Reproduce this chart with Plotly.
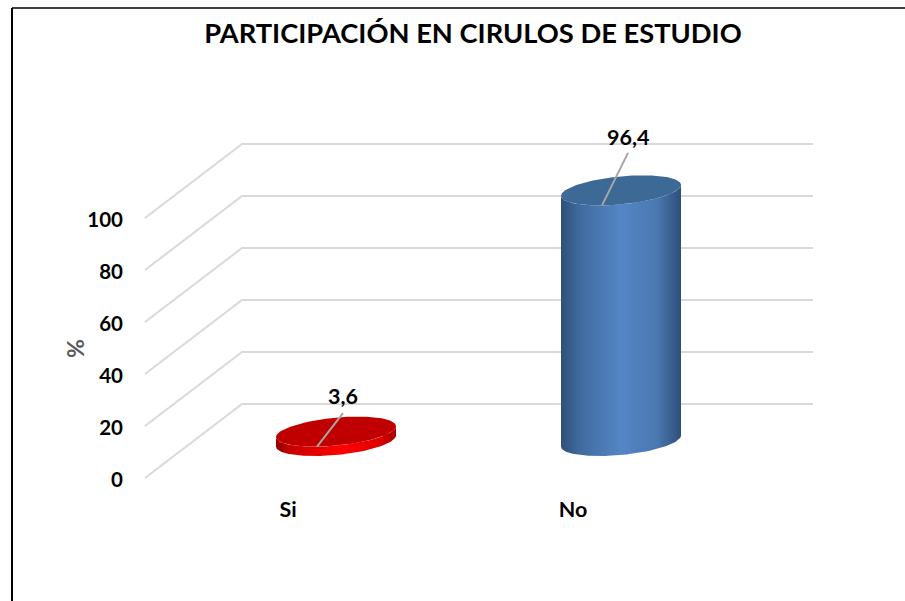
import numpy as np
import plotly.graph_objects as go

categories = ["Si", "No"]
values = [3.6, 96.4]
value_labels = ["3,6", "96,4"]
y_ticks = [0, 20, 40, 60, 80, 100]

title = "PARTICIPACIÓN EN CIRULOS DE ESTUDIO"
font = "Lato, Carlito, Calibri, sans-serif"

# page is 905x601, the fake 3D depth is worked out in pixels then scaled to axis units
W, H = 905, 601
PX_PER_UNIT = 2.6
PX_PER_CAT = 285
X0_PX = 336       # pixel of the first cylinder centre
Y0_PX = 480       # pixel of value 0 on the axis
PLOT_BOTTOM = 494


def dx(px):
    return px / PX_PER_CAT


def dv(px):
    return px / PX_PER_UNIT


def xcat(px):
    return (px - X0_PX) / PX_PER_CAT


# gridlines: front corner -> back wall -> right end
FRONT_X, BACK_X, RIGHT_X = xcat(145), xcat(242), xcat(813)
FRONT_V, BACK_V = dv(2), dv(76)
BASE_V = dv(39)   # floor level under the cylinders

HALF_W, ELL_B, ELL_K = dx(60), dv(14), dv(5.5)

styles = [
    dict(top="#C00000",
         body=[[0, "#8E0000"], [0.12, "#C80000"], [0.55, "#FF0000"], [0.85, "#E00000"], [1, "#A80000"]]),
    dict(top="#3D6996",
         body=[[0, "#2F4F78"], [0.15, "#3F6A9E"], [0.5, "#5486C6"], [0.8, "#4A78B0"], [1, "#2F4F78"]]),
]
leader_rise = [18.5, 37.5]
label_rise = [35.5, 53]

fig = go.Figure()

# walls / gridlines
gx, gy = [], []
for tick in y_ticks:
    gx += [FRONT_X, BACK_X, RIGHT_X, None]
    gy += [tick + FRONT_V, tick + BACK_V, tick + BACK_V, None]
fig.add_trace(go.Scatter(x=gx, y=gy, mode="lines", line=dict(color="#D9D9D9", width=2),
                         hoverinfo="skip", showlegend=False))

for i, (cat, val) in enumerate(zip(categories, values)):
    top_v = BASE_V + val

    # body: lower arc of the floor ellipse, back along the lower arc of the top ellipse
    t = np.linspace(np.pi, 2 * np.pi, 80)
    ex = i + HALF_W * np.cos(t)
    ev = ELL_K * np.cos(t) + ELL_B * np.sin(t)
    body_x = np.concatenate([ex, ex[::-1]])
    body_y = np.concatenate([BASE_V + ev, (top_v + ev)[::-1]])
    fig.add_trace(go.Scatter(
        x=body_x, y=body_y, mode="lines", line=dict(width=0), fill="toself",
        fillgradient=dict(type="horizontal", colorscale=styles[i]["body"]),
        hoverinfo="skip", showlegend=False,
    ))

    # top face
    t = np.linspace(0, 2 * np.pi, 160)
    fig.add_trace(go.Scatter(
        x=i + HALF_W * np.cos(t),
        y=top_v + ELL_K * np.cos(t) + ELL_B * np.sin(t),
        mode="lines", line=dict(width=0), fill="toself", fillcolor=styles[i]["top"],
        hoverinfo="skip", showlegend=False,
    ))

    # leader line and data label
    fig.add_trace(go.Scatter(
        x=[i - dx(19), i + dx(7)],
        y=[top_v - dv(15), top_v + dv(leader_rise[i])],
        mode="lines", line=dict(color="#A6A6A6", width=2),
        hoverinfo="skip", showlegend=False,
    ))
    fig.add_annotation(x=i + dx(7), y=top_v + dv(label_rise[i]), text=f"<b>{value_labels[i]}</b>",
                       showarrow=False, font=dict(family=font, size=21.5, color="#000000"))

# % axis title
fig.add_annotation(xref="paper", yref="paper", x=75 / W, y=1 - 349 / H, text="<b>%</b>",
                   textangle=-90, showarrow=False, xanchor="center", yanchor="middle",
                   font=dict(family=font, size=23, color="#595959"))

fig.update_layout(
    width=W,
    height=H,
    margin=dict(l=0, r=0, t=0, b=0),
    paper_bgcolor="white",
    plot_bgcolor="white",
    showlegend=False,
    title=dict(text=f"<b>{title}</b>", x=473 / W, xanchor="center", y=1 - 33 / H, yanchor="middle",
               font=dict(family=font, size=27.3, color="#000000")),
    xaxis=dict(
        range=[xcat(0), xcat(W)],
        tickmode="array",
        tickvals=[i + dx(-48) for i in range(len(categories))],
        ticktext=[f"<b>{c}</b>" for c in categories],
        tickfont=dict(family=font, size=21.5, color="#000000"),
        showgrid=False,
        zeroline=False,
        showline=False,
        ticks="",
    ),
    yaxis=dict(
        domain=[(H - PLOT_BOTTOM) / H, 1],
        range=[(Y0_PX - PLOT_BOTTOM) / PX_PER_UNIT, Y0_PX / PX_PER_UNIT],
        anchor="free",
        position=123 / W,
        tickmode="array",
        tickvals=y_ticks,
        ticktext=[f"<b>{v}</b>" for v in y_ticks],
        tickfont=dict(family=font, size=20.5, color="#000000"),
        showgrid=False,
        zeroline=False,
        showline=False,
        ticks="",
    ),
    shapes=[
        # chart frame, open at the right and the bottom
        dict(type="line", xref="paper", yref="paper", x0=12 / W, x1=12 / W, y0=0, y1=1 - 8 / H,
             line=dict(color="#000000", width=2)),
        dict(type="line", xref="paper", yref="paper", x0=12 / W, x1=1, y0=1 - 8 / H, y1=1 - 8 / H,
             line=dict(color="#000000", width=1.5)),
    ],
)

# the page has a default 8px body margin, drop it so the figure fills the window
fig.write_html("out.html", config={"displayModeBar": False},
               post_script="document.body.style.margin='0';document.documentElement.style.overflow='hidden';")
